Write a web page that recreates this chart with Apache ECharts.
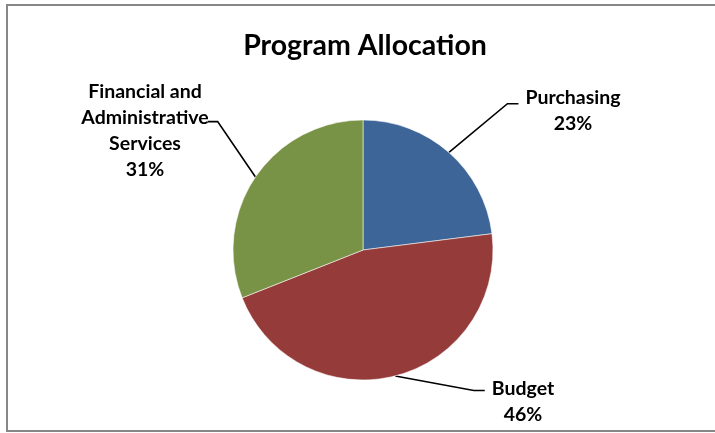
<!DOCTYPE html>
<html>
<head>
<meta charset="utf-8">
<script src="https://cdn.jsdelivr.net/npm/echarts@6/dist/echarts.min.js"></script>
<style>
  html, body { margin: 0; padding: 0; background: #fff; }
  #chart { width: 715px; height: 433px; }
</style>
</head>
<body>
<div id="chart"></div>
<script>
// Share of the program budget by area
const categories = ['Purchasing', 'Budget', 'Financial and Administrative Services'];
const shares = [23, 46, 31];
const sliceColors = ['#3D6597', '#953B39', '#799346'];

// Where each label sits and which side its leader line leaves from
const labelCenters = [[573, 111], [523, 402], [145, 131]];
const leaderSide = ['left', 'left', 'right'];
const leaderFrac = [0.36, 0.28, 0.41];

const FONT = 'Lato';
const LABEL_SIZE = 19.5;
const LABEL_FONT = 'bold ' + LABEL_SIZE + 'px ' + FONT;
const WRAP_WIDTH = 150;

const measureCtx = document.createElement('canvas').getContext('2d');
function textWidth(s) {
  measureCtx.font = LABEL_FONT;
  return measureCtx.measureText(s).width;
}
// Greedy word wrap so long names break onto several lines
function wrap(text) {
  const words = text.split(' ');
  const lines = [];
  let cur = '';
  words.forEach(w => {
    const next = cur ? cur + ' ' + w : w;
    if (cur && textWidth(next) > WRAP_WIDTH) { lines.push(cur); cur = w; }
    else cur = next;
  });
  if (cur) lines.push(cur);
  return lines;
}
function labelLines(name, percent) {
  return wrap(name).concat([Math.round(percent) + '%']);
}

const chart = echarts.init(document.getElementById('chart'));

chart.setOption({
  animation: false,
  title: {
    text: 'Program Allocation',
    left: 360,
    textAlign: 'center',
    top: 26,
    textStyle: { fontFamily: FONT, fontWeight: 'bold', fontSize: 28.5, color: '#000' }
  },
  graphic: [{
    type: 'rect',
    shape: { x: 7, y: 5, width: 720, height: 426 },
    style: { fill: 'none', stroke: '#878787', lineWidth: 2 },
    silent: true
  }],
  series: [{
    type: 'pie',
    center: [363, 250],
    radius: 130,
    startAngle: 90,
    clockwise: true,
    data: categories.map((name, i) => ({
      name,
      value: shares[i],
      itemStyle: { color: sliceColors[i] }
    })),
    itemStyle: { borderColor: 'rgba(255,255,255,0.55)', borderWidth: 1 },
    label: {
      show: true,
      position: 'outside',
      formatter: p => labelLines(p.name, p.percent).join('\n'),
      fontFamily: FONT,
      fontWeight: 'bold',
      fontSize: LABEL_SIZE,
      lineHeight: 26,
      color: '#000',
      align: 'center'
    },
    labelLine: {
      show: true,
      lineStyle: { color: '#000', width: 1.6 }
    },
    labelLayout: function (params) {
      const i = params.dataIndex;
      const c = labelCenters[i];
      const lines = labelLines(categories[i], shares[i]);
      const w = Math.max.apply(null, lines.map(textWidth));
      const h = params.labelRect.height;
      const left = c[0] - w / 2;
      const top = c[1] - h / 2;
      const start = params.labelLinePoints ? params.labelLinePoints[0] : null;
      const y = top + h * leaderFrac[i];
      let end, elbow;
      if (leaderSide[i] === 'left') {
        end = [left - 7, y];
        elbow = [end[0] - 11, y];
      } else {
        end = [left + w - 1, y];
        elbow = [end[0] + 10, y];
      }
      const out = { x: c[0], y: c[1], align: 'center', verticalAlign: 'middle' };
      if (start) out.labelLinePoints = [start, elbow, end];
      return out;
    }
  }]
});
</script>
</body>
</html>
